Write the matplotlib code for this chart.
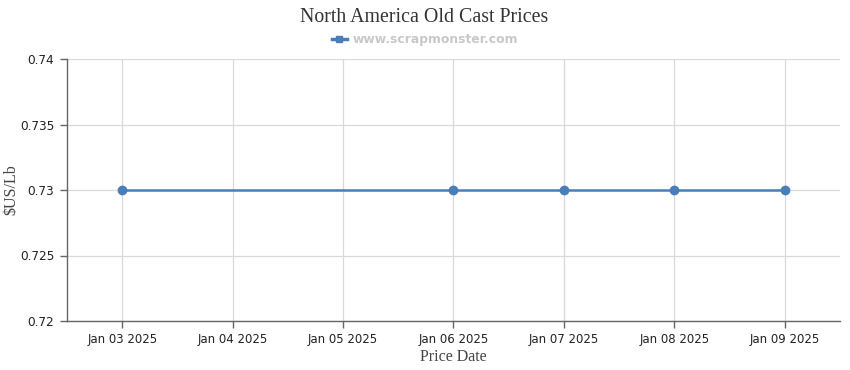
import matplotlib
matplotlib.use("Agg")
import matplotlib.pyplot as plt
from matplotlib.lines import Line2D

categories = ["Jan 03 2025", "Jan 04 2025", "Jan 05 2025", "Jan 06 2025",
              "Jan 07 2025", "Jan 08 2025", "Jan 09 2025"]
point_dates = ["Jan 03 2025", "Jan 06 2025", "Jan 07 2025", "Jan 08 2025", "Jan 09 2025"]
point_values = [0.73, 0.73, 0.73, 0.73, 0.73]
y_ticks = [0.72, 0.725, 0.73, 0.735, 0.74]
y_tick_labels = ["0.72", "0.725", "0.73", "0.735", "0.74"]

line_color = "#4a7ebb"
grid_color = "#d9d9d9"
axis_color = "#666666"

fig = plt.figure(figsize=(8.5, 3.7), dpi=100)
ax = fig.add_axes([67/850, 49/370, (840-67)/850, (321-59)/370])

xs = [categories.index(d) for d in point_dates]
ax.plot(xs, point_values, color=line_color, linewidth=1.8, marker="o",
        markersize=6, zorder=3)

ax.set_xlim(-0.5, len(categories) - 0.5)
ax.set_ylim(0.72, 0.74)
ax.set_xticks(range(len(categories)))
ax.set_xticklabels(categories, fontsize=8.5, color="#222222", family="DejaVu Sans")
ax.set_yticks(y_ticks)
ax.set_yticklabels(y_tick_labels, fontsize=8.7, color="#222222", family="DejaVu Sans")

ax.grid(True, color=grid_color, linewidth=0.9, zorder=0)
ax.set_axisbelow(True)
for s in ["top", "right"]:
    ax.spines[s].set_visible(False)
for s in ["left", "bottom"]:
    ax.spines[s].set_color(axis_color)
    ax.spines[s].set_linewidth(1.0)
ax.tick_params(axis="both", direction="out", length=5, width=1, color=axis_color, pad=4)

ax.set_xlabel("Price Date", family="Liberation Serif", fontsize=11.5, color="#444444", labelpad=2)
ax.set_ylabel("$US/Lb", family="Liberation Serif", fontsize=11.5, color="#444444")
ax.yaxis.set_label_coords(-48/773, 0.5)

fig.text(0.4995, 1 - 17/370, "North America Old Cast Prices", family="Liberation Serif",
         fontsize=14.3, color="#333333", ha="center", va="center")

# legend
leg_handle = Line2D([], [], color=line_color, linewidth=2.5, marker="s", markersize=5)
fig.legend(handles=[leg_handle], labels=["www.scrapmonster.com"],
           loc="center", bbox_to_anchor=(0.5, 1 - 40/370), frameon=False,
           prop={"family": "DejaVu Sans", "weight": "bold", "size": 8.9},
           labelcolor="#c8c8c8", handlelength=1.2, handletextpad=0.5)

fig.savefig("out.png", dpi=100, facecolor="white")
